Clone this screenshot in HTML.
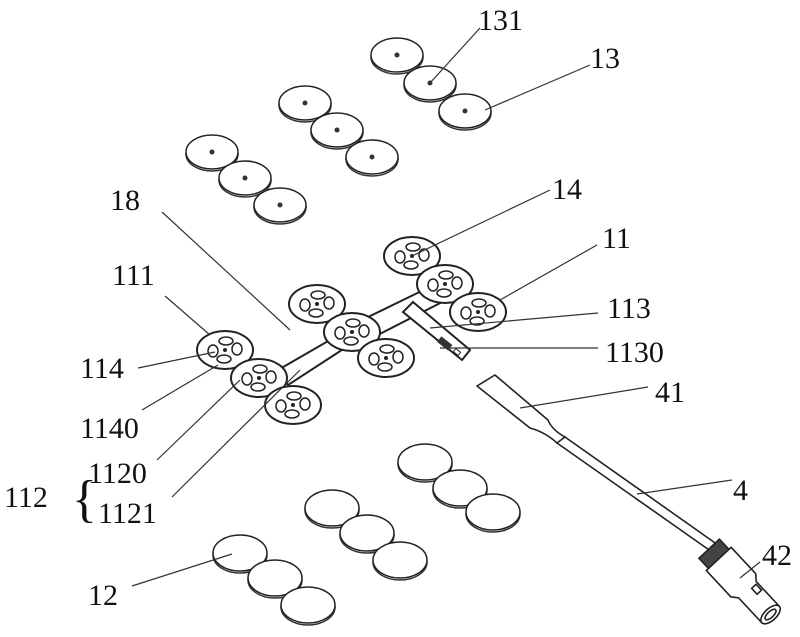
<!DOCTYPE html>
<html><head><meta charset="utf-8"><style>
html,body{margin:0;padding:0;background:#fff}
svg{display:block}
text{font-family:"Liberation Serif",serif;font-size:30px;fill:#111}
</style></head><body>
<svg width="800" height="637" viewBox="0 0 800 637" xmlns="http://www.w3.org/2000/svg">
<defs>
<g id="dd"><ellipse cx="0" cy="2" rx="26" ry="17" fill="#fff" stroke="#333" stroke-width="1.5"/><ellipse cx="0" cy="0" rx="26" ry="17" fill="#fff" stroke="#222" stroke-width="1.5"/><circle r="2.5" fill="#333"/></g>
<g id="bd"><ellipse cx="0" cy="2" rx="27" ry="18" fill="#fff" stroke="#333" stroke-width="1.5"/><ellipse cx="0" cy="0" rx="27" ry="18" fill="#fff" stroke="#222" stroke-width="1.5"/></g>
<g id="pad"><ellipse rx="28" ry="19" fill="#fff" stroke="#222" stroke-width="2"/>
<ellipse cx="-12" cy="1" rx="5" ry="6" fill="none" stroke="#222" stroke-width="1.5"/>
<ellipse cx="12" cy="-1" rx="5" ry="6" fill="none" stroke="#222" stroke-width="1.5"/>
<ellipse cx="1" cy="-9" rx="7" ry="4" fill="none" stroke="#222" stroke-width="1.5"/>
<ellipse cx="-1" cy="9" rx="7" ry="4" fill="none" stroke="#222" stroke-width="1.5"/>
<circle r="2" fill="#222"/></g>
</defs>
<use href="#dd" x="397" y="55"/><use href="#dd" x="430" y="83"/><use href="#dd" x="465" y="111"/>
<use href="#dd" x="305" y="103"/><use href="#dd" x="337" y="130"/><use href="#dd" x="372" y="157"/>
<use href="#dd" x="212" y="152"/><use href="#dd" x="245" y="178"/><use href="#dd" x="280" y="205"/>
<use href="#bd" x="425" y="462"/><use href="#bd" x="460" y="488"/><use href="#bd" x="493" y="512"/>
<use href="#bd" x="332" y="508"/><use href="#bd" x="367" y="533"/><use href="#bd" x="400" y="560"/>
<use href="#bd" x="240" y="553"/><use href="#bd" x="275" y="578"/><use href="#bd" x="308" y="605"/>
<g stroke="#222" stroke-width="2" fill="#fff">
<path d="M278 370 L342 333 L348 346 L288 385 Z"/>
<path d="M362 320 L440 282 L450 298 L372 338 Z"/>
<path d="M413 302 L470 350 L462 360 L403 312 Z"/>
</g>
<rect x="438" y="340" width="14" height="7" fill="#333" transform="rotate(38 445 343)"/>
<rect x="454" y="350" width="6" height="4" fill="none" stroke="#222" transform="rotate(38 457 352)"/>
<use href="#pad" x="225" y="350"/><use href="#pad" x="259" y="378"/><use href="#pad" x="293" y="405"/>
<use href="#pad" x="317" y="304"/><use href="#pad" x="352" y="332"/><use href="#pad" x="386" y="358"/>
<use href="#pad" x="412" y="256"/><use href="#pad" x="445" y="284"/><use href="#pad" x="478" y="312"/>
<g stroke="#222" stroke-width="1.6" fill="#fff">
<path d="M477 386 L495 375 L548 420 Q552 430 565 437 L557 443 Q545 432 530 428 Z"/>
<path d="M557 443 L712 552 M565 437 L718 545" fill="none"/>
<g transform="translate(716,556) rotate(47)">
<rect x="-10" y="-14" width="14" height="28" fill="#444"/>
<path d="M4 -17 L40 -17 L46 -12 L80 -12 L80 12 L46 12 L40 17 L4 17 Z"/>
<rect x="48" y="-10" width="8" height="6" fill="none"/>
<ellipse cx="80" cy="0" rx="6" ry="12"/>
<ellipse cx="80" cy="0" rx="3" ry="7"/>
</g>
</g>
<g stroke="#333" stroke-width="1.2">
<line x1="430" y1="83" x2="480" y2="28"/>
<line x1="485" y1="110" x2="590" y2="65"/>
<line x1="412" y1="256" x2="550" y2="190"/>
<line x1="162" y1="212" x2="290" y2="330"/>
<line x1="500" y1="300" x2="597" y2="245"/>
<line x1="165" y1="296" x2="210" y2="335"/>
<line x1="430" y1="328" x2="598" y2="313"/>
<line x1="138" y1="368" x2="215" y2="352"/>
<line x1="440" y1="348" x2="598" y2="348"/>
<line x1="520" y1="408" x2="648" y2="387"/>
<line x1="142" y1="410" x2="218" y2="365"/>
<line x1="157" y1="460" x2="240" y2="380"/>
<line x1="637" y1="494" x2="732" y2="480"/>
<line x1="172" y1="497" x2="300" y2="370"/>
<line x1="740" y1="578" x2="760" y2="562"/>
<line x1="132" y1="586" x2="232" y2="554"/>
</g>
<text x="478" y="30">131</text>
<text x="590" y="68">13</text>
<text x="552" y="199">14</text>
<text x="110" y="210">18</text>
<text x="602" y="248">11</text>
<text x="112" y="285">111</text>
<text x="607" y="318">113</text>
<text x="80" y="378">114</text>
<text x="605" y="362">1130</text>
<text x="655" y="402">41</text>
<text x="80" y="438">1140</text>
<text x="88" y="483">1120</text>
<text x="4" y="507">112</text>
<text x="72" y="516" style="font-size:52px">{</text>
<text x="733" y="500">4</text>
<text x="98" y="523">1121</text>
<text x="762" y="565">42</text>
<text x="88" y="605">12</text>
</svg>
</body></html>
